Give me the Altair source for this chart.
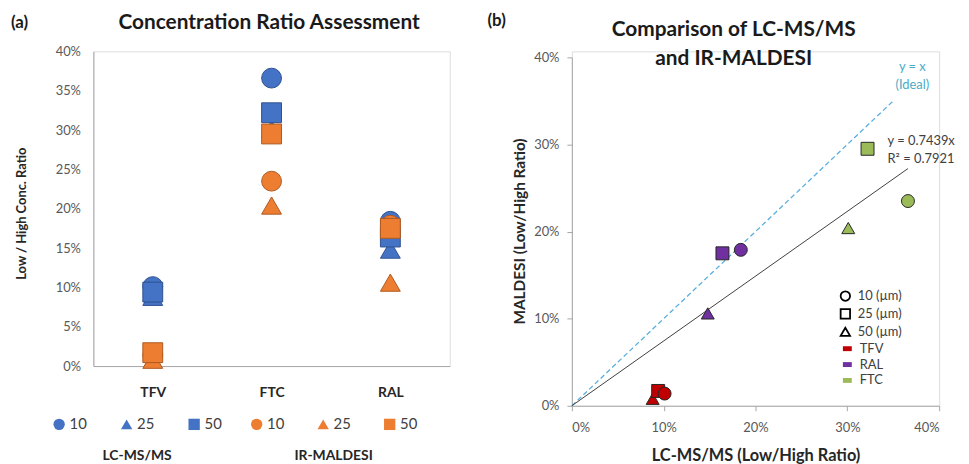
import altair as alt
import pandas as pd

# ---------------- data ----------------
drugs = ["TFV", "FTC", "RAL"]
marker_shapes = ["circle", "triangle-up", "square"]
left_size_labels = ["10", "25", "50"]              # left-panel legend labels per marker shape
right_shape_labels = ["10 (µm)", "50 (µm)", "25 (µm)"]  # right-panel legend labels per marker shape
right_legend_order = ["10 (µm)", "25 (µm)", "50 (µm)"]
right_legend_shapes = ["circle", "square", "triangle-up"]

lcms_tfv = [0.101, 0.088, 0.094]
lcms_ftc = [0.366, 0.301, 0.322]
lcms_ral = [0.184, 0.148, 0.164]
maldesi_tfv = [0.014, 0.008, 0.017]
maldesi_ftc = [0.235, 0.204, 0.295]
maldesi_ral = [0.179, 0.106, 0.175]

drug_legend_order = ["TFV", "RAL", "FTC"]
drug_colors = ["#C00000", "#7030A0", "#9BBB59"]

left_ticks = [0, 0.05, 0.10, 0.15, 0.20, 0.25, 0.30, 0.35, 0.40]
right_ticks = [0, 0.10, 0.20, 0.30, 0.40]

ideal_x = [0.0, 0.35]
fit_x = [0.0, 0.366]
fit_slope = 0.7439

left_title = ["Concentration Ratio Assessment"]
right_title = ["Comparison of LC-MS/MS", "and IR-MALDESI"]
ideal_text = ["y = x", "(Ideal)"]
fit_text = ["y = 0.7439x", "R² = 0.7921"]

rows = []
for d, lcv, irv in zip(drugs, [lcms_tfv, lcms_ftc, lcms_ral], [maldesi_tfv, maldesi_ftc, maldesi_ral]):
    for shp, lbl, rlbl, lc, ir in zip(marker_shapes, left_size_labels, right_shape_labels, lcv, irv):
        rows.append(dict(drug=d, shape=shp, size_label=lbl, shape_label=rlbl, lc=lc, ir=ir))
df = pd.DataFrame(rows)
right_draw = {"triangle-up": 0, "square": 1, "circle": 2}
df_right = df.assign(k=df["shape"].map(right_draw)).sort_values(["drug", "k"], kind="stable")

FONT = "Lato"
BLUE, BLUE_E = "#4472C4", "#2F528F"
ORANGE, ORANGE_E = "#ED7D31", "#AE5A21"
AXIS_GRAY = "#A6A6A6"
LW, LH = 359, 317
RW, RH = 370, 357


def text_layer(lines, x, y, size, color, weight="normal", align="center", line_height=18):
    # y is the centre of the first line
    return alt.Chart(pd.DataFrame({"t": ["\n".join(lines)]})).mark_text(
        font=FONT, fontSize=size, fontWeight=weight, color=color, align=align, baseline="middle",
        lineBreak="\n", lineHeight=line_height
    ).encode(text="t:N", x=alt.value(x), y=alt.value(y))


# ---------------- left panel ----------------
x_left = alt.X("drug:N", sort=drugs, scale=alt.Scale(domain=drugs),
               axis=alt.Axis(title=None, labelAngle=0, labelFontWeight="bold", labelFontSize=14,
                             labelColor="#262626", domainColor=AXIS_GRAY, ticks=False, tickSize=0,
                             labelPadding=20, labelFont=FONT))
y_axis_left = alt.Axis(format=".0%", values=left_ticks, grid=False, ticks=False, tickSize=0,
                       domainColor=AXIS_GRAY, labelColor="#595959", labelFontSize=13, labelPadding=13,
                       title="Low / High Conc. Ratio", titleFontSize=13, titleFontWeight="bold",
                       titleColor="#262626", titleX=-72, titleY=163, titleBaseline="middle", titleAngle=-90)
y_scale_left = alt.Scale(domain=[0, 0.4], nice=False)


def left_legend(title, lx, fill, stroke, colpad):
    return alt.Legend(title=title, orient="none", legendX=lx, legendY=368, direction="horizontal",
                      titleOrient="bottom", titleAnchor="middle", titleFontSize=14, titleFontWeight="bold",
                      titleColor="#262626", titlePadding=17, labelFontSize=15, labelColor="#404040",
                      labelOffset=3, columnPadding=colpad, symbolSize=130, symbolFillColor=fill,
                      symbolStrokeColor=stroke, symbolStrokeWidth=1)


lc_layer = alt.Chart(df).mark_point(filled=True, size=400, color=BLUE, stroke=BLUE_E, strokeWidth=1,
                                    opacity=1).encode(
    x=x_left,
    y=alt.Y("lc:Q", scale=y_scale_left, axis=y_axis_left),
    shape=alt.Shape("size_label:N", scale=alt.Scale(domain=left_size_labels, range=marker_shapes),
                    legend=left_legend("LC-MS/MS", -42, BLUE, BLUE_E, 31)),
)
ir_layer = alt.Chart(df).mark_point(filled=True, size=400, color=ORANGE, stroke=ORANGE_E, strokeWidth=1,
                                    opacity=1).encode(
    x=x_left,
    y=alt.Y("ir:Q", scale=y_scale_left, axis=y_axis_left),
    shape=alt.Shape("size_label:N", scale=alt.Scale(domain=left_size_labels, range=marker_shapes),
                    legend=left_legend("IR-MALDESI", 157, ORANGE, ORANGE_E, 30)),
)

left = alt.layer(
    lc_layer, ir_layer,
    text_layer(left_title, 177, -29, 21, "#1a1a1a", "bold"),
    text_layer(["(a)"], -83, -29, 17, "#1a1a1a", "bold", align="left"),
).resolve_scale(shape="independent").properties(width=LW, height=LH)

# ---------------- right panel ----------------
x_right = alt.X("lc:Q", scale=alt.Scale(domain=[0, 0.4], nice=False),
                axis=alt.Axis(format=".0%", values=right_ticks, grid=False, domainColor=AXIS_GRAY,
                              tickColor=AXIS_GRAY, tickSize=5, labelPadding=11, labelColor="#595959",
                              labelFontSize=13, title="LC-MS/MS (Low/High Ratio)", titleFontSize=16.5,
                              titleFontWeight="bold", titleColor="#262626", titleX=185, titleY=50,
                              titleBaseline="middle"))
y_right = alt.Y("ir:Q", scale=alt.Scale(domain=[0, 0.4], nice=False, range=[RH, 6]),
                axis=alt.Axis(format=".0%", values=right_ticks, grid=False, domainColor=AXIS_GRAY,
                              tickColor=AXIS_GRAY, tickSize=5, labelPadding=8, labelColor="#595959",
                              labelFontSize=13, title="MALDESI (Low/High Ratio)", titleFontSize=15.5,
                              titleFontWeight="bold", titleColor="#262626", titleX=-53, titleY=181,
                              titleBaseline="middle", titleAngle=-90))

ideal_line = alt.Chart(pd.DataFrame({"lc": ideal_x, "ir": ideal_x})).mark_line(
    color="#5AAEE0", strokeWidth=1.3, strokeDash=[5, 3]).encode(x=x_right, y=y_right)
fit_line = alt.Chart(pd.DataFrame({"lc": fit_x})).transform_calculate(
    ir=f"{fit_slope} * datum.lc").mark_line(color="#404040", strokeWidth=1).encode(x=x_right, y=y_right)

pts = alt.Chart(df_right).mark_point(filled=True, size=170, stroke="#262626", strokeWidth=1,
                                     opacity=1).encode(
    x=x_right, y=y_right,
    color=alt.Color("drug:N", scale=alt.Scale(domain=drug_legend_order, range=drug_colors),
                    legend=alt.Legend(title=None, orient="none", legendX=271, legendY=293,
                                      symbolType="M-1,-0.55H1V0.55H-1Z", symbolSize=80,
                                      symbolStrokeWidth=0, labelFontSize=13, labelColor="#404040",
                                      rowPadding=2, labelOffset=6)),
    shape=alt.Shape("shape_label:N", scale=alt.Scale(domain=right_legend_order, range=right_legend_shapes),
                    legend=alt.Legend(title=None, orient="none", legendX=269, legendY=240,
                                      symbolFillColor="white", symbolStrokeColor="black",
                                      symbolStrokeWidth=1.8, symbolSize=90, labelFontSize=13,
                                      labelColor="#404040", rowPadding=1, labelOffset=6)),
)

right = alt.layer(
    ideal_line, fit_line, pts,
    text_layer(right_title, 163, -21, 21, "#1a1a1a", "bold", line_height=29),
    text_layer(["(b)"], -85, -31, 17, "#1a1a1a", "bold", align="left"),
    text_layer(ideal_text, 343, 16, 13, "#4BACC6", line_height=18),
    text_layer(fit_text, 318, 90, 13, "#404040", align="left", line_height=18),
).properties(width=RW, height=RH)

chart = alt.hconcat(left, right, spacing=123, bounds="flush").resolve_scale(
    shape="independent", color="independent"
).configure_view(stroke=None).configure(font=FONT).properties(
    padding={"left": 2, "top": 1, "right": 5, "bottom": 0})

chart.save("out.html", embed_options={"renderer": "svg", "actions": False})
